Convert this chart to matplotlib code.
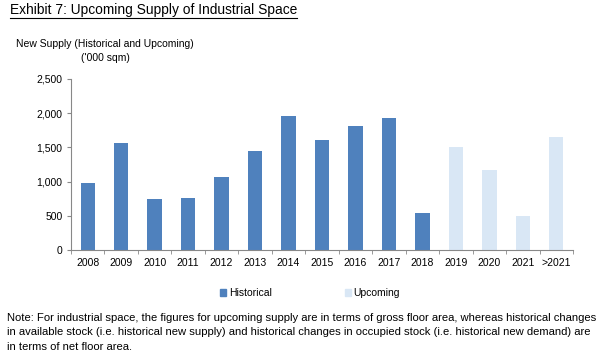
import matplotlib.pyplot as plt
from matplotlib.patches import Patch
import numpy as np

plt.rcParams['font.family'] = ['Liberation Sans', 'DejaVu Sans']

categories = ["2008", "2009", "2010", "2011", "2012", "2013", "2014", "2015",
              "2016", "2017", "2018", "2019", "2020", "2021", ">2021"]
historical = [985, 1560, 750, 765, 1060, 1450, 1965, 1610, 1820, 1935, 545,
              None, None, None, None]
upcoming = [None] * 11 + [1510, 1175, 500, 1645]

HIST_COLOR = "#4f81bd"
UPC_COLOR = "#d9e7f5"

fig = plt.figure(figsize=(6.11, 3.57), dpi=100)
ax = fig.add_axes([71 / 611, 1 - 250 / 357, 502 / 611, 171 / 357])

x = np.arange(len(categories))
h = np.array([np.nan if v is None else v for v in historical], dtype=float)
u = np.array([np.nan if v is None else v for v in upcoming], dtype=float)
ax.bar(x, h, width=0.43, color=HIST_COLOR, zorder=2)
ax.bar(x, u, width=0.43, color=UPC_COLOR, zorder=2)

ax.set_xlim(-0.5, len(categories) - 0.5)
ax.set_ylim(0, 2500)
ax.set_yticks(range(0, 2501, 500))
ax.set_yticklabels([f"{v:,}" for v in range(0, 2501, 500)], fontsize=7.5)
ax.set_xticks(x)
ax.set_xticklabels(categories, fontsize=7.5)
ax.tick_params(axis="x", length=0, pad=6)
ax.set_xticks(np.arange(-0.5, len(categories), 1), minor=True)
ax.tick_params(axis="x", which="minor", length=3, color="#888888")
ax.tick_params(axis="y", length=3, color="#888888", pad=3)
for s in ("top", "right"):
    ax.spines[s].set_visible(False)
for s in ("left", "bottom"):
    ax.spines[s].set_color("#888888")
    ax.spines[s].set_linewidth(0.8)

fig.text(105 / 611, 1 - 44 / 357, "New Supply (Historical and Upcoming)",
         fontsize=7.5, ha="center", va="center")
fig.text(105 / 611, 1 - 58 / 357, "('000 sqm)",
         fontsize=7.5, ha="center", va="center")

t = fig.text(10 / 611, 1 - 10 / 357, "Exhibit 7: Upcoming Supply of Industrial Space",
             fontsize=9.9, ha="left", va="center")
fig.canvas.draw()
bb = t.get_window_extent()
fig.add_artist(plt.Line2D([bb.x0 / 611, bb.x1 / 611],
                          [(bb.y0 - 1) / 357, (bb.y0 - 1) / 357],
                          color="black", lw=0.8, transform=fig.transFigure))

handles = [Patch(color=HIST_COLOR, label="Historical"),
           Patch(color=UPC_COLOR, label="Upcoming")]
fig.legend(handles=handles, loc="center left", bbox_to_anchor=(220 / 611, 1 - 293 / 357),
           ncol=2, frameon=False, fontsize=7.5, handlelength=0.6, handleheight=0.6,
           handletextpad=0.25, columnspacing=7.0, borderpad=0, borderaxespad=0)

note = ("Note: For industrial space, the figures for upcoming supply are in terms of gross floor area, "
        "whereas historical changes\n"
        "in available stock (i.e. historical new supply) and historical changes in occupied stock "
        "(i.e. historical new demand) are\n"
        "in terms of net floor area.")
fig.text(7 / 611, 1 - 313 / 357, note, fontsize=8.15, ha="left", va="top", linespacing=1.55)

fig.savefig("out.png", dpi=100)
